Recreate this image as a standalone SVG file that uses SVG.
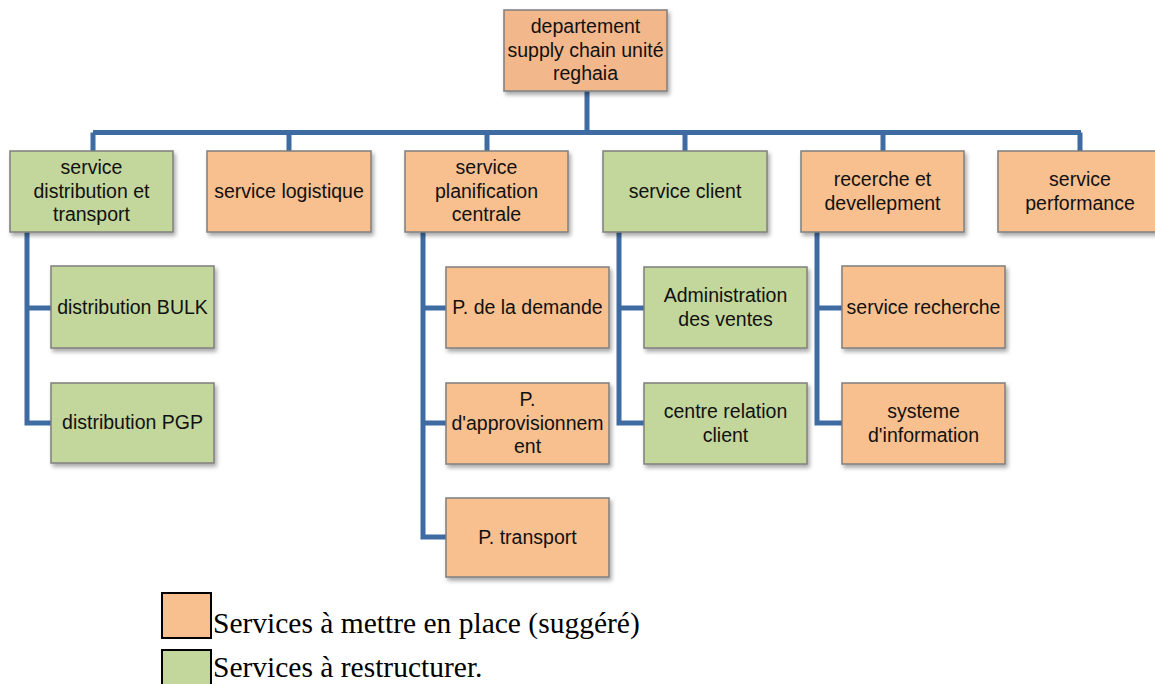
<svg xmlns="http://www.w3.org/2000/svg" width="1155" height="684" viewBox="0 0 1155 684">
<defs>
<filter id="sh" x="-10%" y="-10%" width="130%" height="140%">
<feDropShadow dx="2" dy="3" stdDeviation="2" flood-color="#000" flood-opacity="0.35"/>
</filter>
<style>
.o{fill:#F8BF8F;stroke:#7F7F7F;stroke-width:1.5;filter:url(#sh)}
.t0{fill:#F2B78B;stroke:#7F7F7F;stroke-width:1.5;filter:url(#sh)}
.g{fill:#C3D69B;stroke:#7F7F7F;stroke-width:1.5;filter:url(#sh)}
text.n{font-family:"Liberation Sans",Arial,sans-serif;font-size:19.5px;fill:#111;text-anchor:middle}
text.l{font-family:"Liberation Serif","Times New Roman",serif;font-size:29.5px;fill:#000}
.c{fill:none;stroke:#3F6BA3;stroke-width:5}
.lg{stroke:#000;stroke-width:2}
</style>
</defs>
<g id="connectors">
<path class="c" d="M587 91V132.5M93 132.5H1081M93 132.5V151M289 132.5V151M487 132.5V151M685 132.5V151M883 132.5V151M1080 132.5V151"/>
<path class="c" d="M27 232V423H51M27 308H51"/>
<path class="c" d="M423 232V537H446M423 308H446M423 423H446"/>
<path class="c" d="M619 232V423H644M619 308H644"/>
<path class="c" d="M817 232V423H842M817 308H842"/>
</g>
<g id="top"><rect class="t0" x="504" y="10" width="163" height="81"/><text class="n" x="585.5" y="33">departement</text><text class="n" x="585.5" y="56.5">supply chain unité</text><text class="n" x="585.5" y="80">reghaia</text></g>
<g id="s1"><rect class="g" x="10" y="151" width="163" height="81"/><text class="n" x="91.5" y="174">service</text><text class="n" x="91.5" y="198">distribution et</text><text class="n" x="91.5" y="221">transport</text></g>
<g id="s2"><rect class="o" x="207" y="151" width="164" height="81"/><text class="n" x="289" y="198">service logistique</text></g>
<g id="s3"><rect class="o" x="405" y="151" width="163" height="81"/><text class="n" x="486.5" y="174">service</text><text class="n" x="486.5" y="198">planification</text><text class="n" x="486.5" y="221">centrale</text></g>
<g id="s4"><rect class="g" x="603" y="151" width="164" height="81"/><text class="n" x="685" y="198">service client</text></g>
<g id="s5"><rect class="o" x="801" y="151" width="163" height="81"/><text class="n" x="882.5" y="186">recerche et</text><text class="n" x="882.5" y="210">devellepment</text></g>
<g id="s6"><rect class="o" x="998" y="151" width="164" height="81"/><text class="n" x="1080" y="186">service</text><text class="n" x="1080" y="210">performance</text></g>
<g id="c11"><rect class="g" x="51" y="266" width="163" height="82"/><text class="n" x="132.5" y="314">distribution BULK</text></g>
<g id="c12"><rect class="g" x="51" y="383" width="163" height="80"/><text class="n" x="132.5" y="429">distribution PGP</text></g>
<g id="c31"><rect class="o" x="446" y="267" width="163" height="81"/><text class="n" x="527.5" y="314">P. de la demande</text></g>
<g id="c32"><rect class="o" x="446" y="383" width="163" height="81"/><text class="n" x="527.5" y="406">P.</text><text class="n" x="527.5" y="430">d'approvisionnem</text><text class="n" x="527.5" y="453">ent</text></g>
<g id="c33"><rect class="o" x="446" y="498" width="163" height="79"/><text class="n" x="527.5" y="544">P. transport</text></g>
<g id="c41"><rect class="g" x="644" y="267" width="163" height="81"/><text class="n" x="725.5" y="302">Administration</text><text class="n" x="725.5" y="326">des ventes</text></g>
<g id="c42"><rect class="g" x="644" y="383" width="163" height="81"/><text class="n" x="725.5" y="418">centre relation</text><text class="n" x="725.5" y="442">client</text></g>
<g id="c51"><rect class="o" x="842" y="266" width="163" height="82"/><text class="n" x="923.5" y="314">service recherche</text></g>
<g id="c52"><rect class="o" x="842" y="383" width="163" height="81"/><text class="n" x="923.5" y="418">systeme</text><text class="n" x="923.5" y="442">d'information</text></g>
<g id="legend">
<rect class="lg" x="162" y="593" width="49" height="45" fill="#F8BF8F"/>
<text class="l" x="213" y="633">Services à mettre en place (suggéré)</text>
<rect class="lg" x="162" y="650" width="49" height="45" fill="#C3D69B"/>
<text class="l" x="213" y="677">Services à restructurer.</text>
</g>
</svg>
